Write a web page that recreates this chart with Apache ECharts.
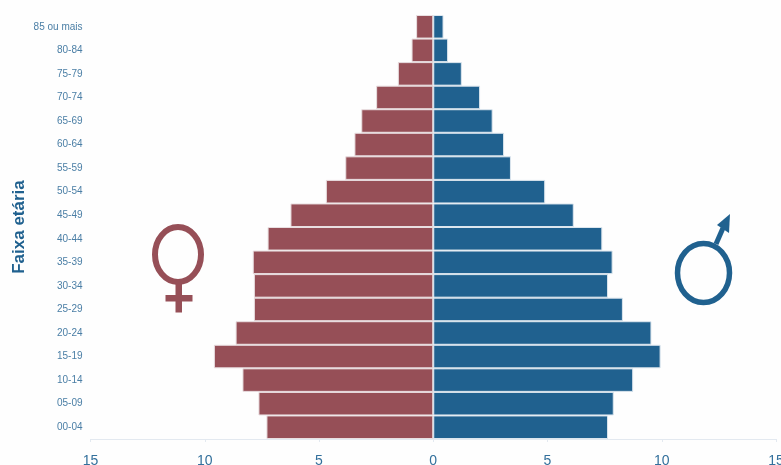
<!DOCTYPE html>
<html><head><meta charset="utf-8">
<style>html,body{margin:0;padding:0;background:#fff}#c{width:781px;height:465px}</style>
<script src="https://cdn.jsdelivr.net/npm/echarts@6/dist/echarts.min.js"></script>
</head><body><div id="c"></div>
<script>
const ageGroups = ["00-04","05-09","10-14","15-19","20-24","25-29","30-34","35-39","40-44","45-49","50-54","55-59","60-64","65-69","70-74","75-79","80-84","85 ou mais"];
const female = [7.3,7.65,8.35,9.6,8.65,7.85,7.85,7.9,7.25,6.25,4.7,3.85,3.45,3.15,2.5,1.55,0.95,0.75];
const male = [7.65,7.9,8.75,9.95,9.55,8.3,7.65,7.85,7.4,6.15,4.9,3.4,3.1,2.6,2.05,1.25,0.65,0.45];
const yTitle = "Faixa etária";
const femaleColor = "#964f57", maleColor = "#20618f";
const font = "Liberation Sans";
const chart = echarts.init(document.getElementById("c"), null, {renderer:"canvas"});
const signed = female.map(v => -v);
chart.setOption({
  animation:false,
  backgroundColor:"#fefefe",
  grid:{left:90.5,right:5,top:15,bottom:26,containLabel:false,outerBoundsMode:"none"},
  xAxis:{type:"value",min:-15,max:15,interval:5,
    axisLine:{show:true,onZero:false,lineStyle:{color:"#e3e9f0",width:1}},
    axisTick:{show:true,length:3,lineStyle:{color:"#e3e9f0"}},
    splitLine:{show:false},
    axisLabel:{color:"#33709c",fontSize:14,fontFamily:font,margin:15,hideOverlap:false,showMinLabel:true,showMaxLabel:true,alignMaxLabel:"center",alignMinLabel:"center",
      formatter:v=>String(Math.abs(v))}},
  yAxis:{type:"category",data:ageGroups,
    axisLine:{show:false},axisTick:{show:false},
    axisLabel:{color:"#4a7ea5",fontSize:10,fontFamily:font,margin:8,interval:0},
    name:yTitle,nameLocation:"middle",nameGap:63,nameRotate:90,nameMoveOverlap:false,
    nameTextStyle:{color:"#20618f",fontSize:17,fontWeight:"bold",fontFamily:font}},
  series:[
    {name:"Feminino",type:"bar",stack:"p",data:signed,barCategoryGap:0,itemStyle:{color:femaleColor,borderColor:"#e9dfe1",borderWidth:1}},
    {name:"Masculino",type:"bar",stack:"p",data:male,barCategoryGap:0,itemStyle:{color:maleColor,borderColor:"#dce6ee",borderWidth:1}}
  ],
  graphic:[
    {type:"ellipse",shape:{cx:178,cy:254.5,rx:23,ry:27.5},style:{fill:"none",stroke:femaleColor,lineWidth:6}},
    {type:"rect",shape:{x:175.5,y:283,width:6.5,height:29.5},style:{fill:femaleColor}},
    {type:"rect",shape:{x:165.5,y:295,width:27,height:6.5},style:{fill:femaleColor}},
    {type:"ellipse",shape:{cx:703.5,cy:273,rx:26,ry:29.5},style:{fill:"none",stroke:maleColor,lineWidth:5.5}},
    {type:"line",shape:{x1:716,y1:244,x2:723,y2:228},style:{stroke:maleColor,lineWidth:5}},
    {type:"polygon",shape:{points:[[730,214],[717,225],[729,233]]},style:{fill:maleColor}}
  ]
});
</script></body></html>
